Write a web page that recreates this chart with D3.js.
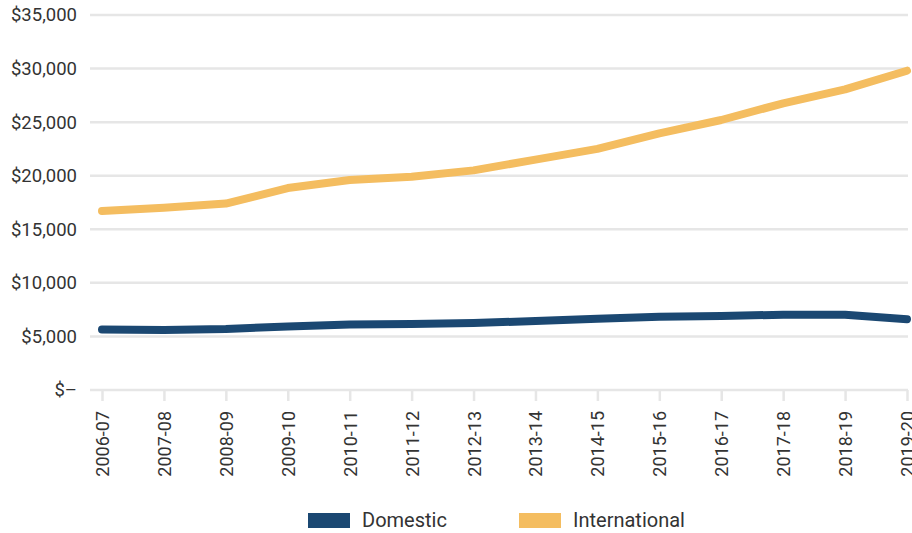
<!DOCTYPE html>
<html>
<head>
<meta charset="utf-8">
<script src="https://cdn.jsdelivr.net/npm/d3@7"></script>
<style>
  body { margin: 0; background: #fff; }
  text { font-family: Roboto, "Noto Sans", sans-serif; fill: #333; }
</style>
</head>
<body>
<div id="chart"></div>
<script>
const years = ["2006-07", "2007-08", "2008-09", "2009-10", "2010-11", "2011-12", "2012-13",
               "2013-14", "2014-15", "2015-16", "2016-17", "2017-18", "2018-19", "2019-20"]
const domestic = [5650, 5600, 5700, 5930, 6110, 6160, 6250, 6440, 6660, 6840, 6900, 7030, 7030, 6600]
const international = [16700, 17000, 17400, 18850, 19600, 19900, 20500, 21500, 22500, 23950, 25200, 26760, 28060, 29800]
const yTicks = [0, 5000, 10000, 15000, 20000, 25000, 30000, 35000]
const seriesNames = ["Domestic", "International"]
const colors = ["#1b4872", "#f4bd60"]

const width = 912
const height = 533

const makeChart = function() {
  const svg = d3.select("#chart")
    .append("svg")
      .attr("width", width)
      .attr("height", height)

  const xScale = d3.scalePoint()
    .domain(years)
    .range([102, 907])

  const yScale = d3.scaleLinear()
    .domain([0, 35000])
    .range([390, 15])

  // Gridlines
  svg.append("g")
    .selectAll("line")
    .data(yTicks)
    .enter()
    .append("line")
      .attr("x1", 90)
      .attr("x2", 908)
      .attr("y1", d => yScale(d))
      .attr("y2", d => yScale(d))
      .attr("stroke", "#e6e6e6")
      .attr("stroke-width", 2.5)

  // Y labels
  const fmt = d => d === 0 ? "$\u2013" : "$" + d3.format(",")(d)
  svg.append("g")
    .selectAll("text")
    .data(yTicks)
    .enter()
    .append("text")
      .text(fmt)
      .attr("x", 77)
      .attr("y", d => yScale(d))
      .attr("dy", "0.35em")
      .attr("text-anchor", "end")
      .attr("font-size", 18.5)

  // X axis
  const xAxis = d3.axisBottom(xScale).tickSize(11).tickPadding(0)
  const gx = svg.append("g")
    .attr("transform", "translate(0," + yScale(0) + ")")
    .call(xAxis)
  gx.select(".domain").remove()
  gx.selectAll(".tick line")
    .attr("stroke", "#e6e6e6")
    .attr("stroke-width", 2.5)
  // the last label runs off the right edge, same as the original
  gx.selectAll(".tick text")
    .attr("font-family", null)
    .attr("font-size", 18)
    .attr("fill", "#333")
    .attr("text-anchor", "end")
    .attr("x", 0)
    .attr("y", 0)
    .attr("dy", null)
    .attr("transform", "translate(6.5,21)rotate(-90)")

  // Lines
  const line = d3.line()
    .x((d, i) => xScale(years[i]))
    .y(d => yScale(d))

  svg.append("g")
    .selectAll("path")
    .data([domestic, international])
    .enter()
    .append("path")
      .attr("d", line)
      .attr("fill", "none")
      .attr("stroke", (d, i) => colors[i])
      .attr("stroke-width", 8)
      .attr("stroke-linecap", "round")
      .attr("stroke-linejoin", "round")

  // Legend
  const legendX = [308, 519]
  const legend = svg.append("g")
    .selectAll("g")
    .data(seriesNames)
    .enter()
    .append("g")
      .attr("transform", (d, i) => "translate(" + legendX[i] + ",513)")
  legend.append("rect")
    .attr("width", 42)
    .attr("height", 15)
    .attr("fill", (d, i) => colors[i])
  legend.append("text")
    .text(d => d)
    .attr("x", 54)
    .attr("y", 14)
    .attr("font-size", 20)
}

makeChart()
</script>
</body>
</html>
